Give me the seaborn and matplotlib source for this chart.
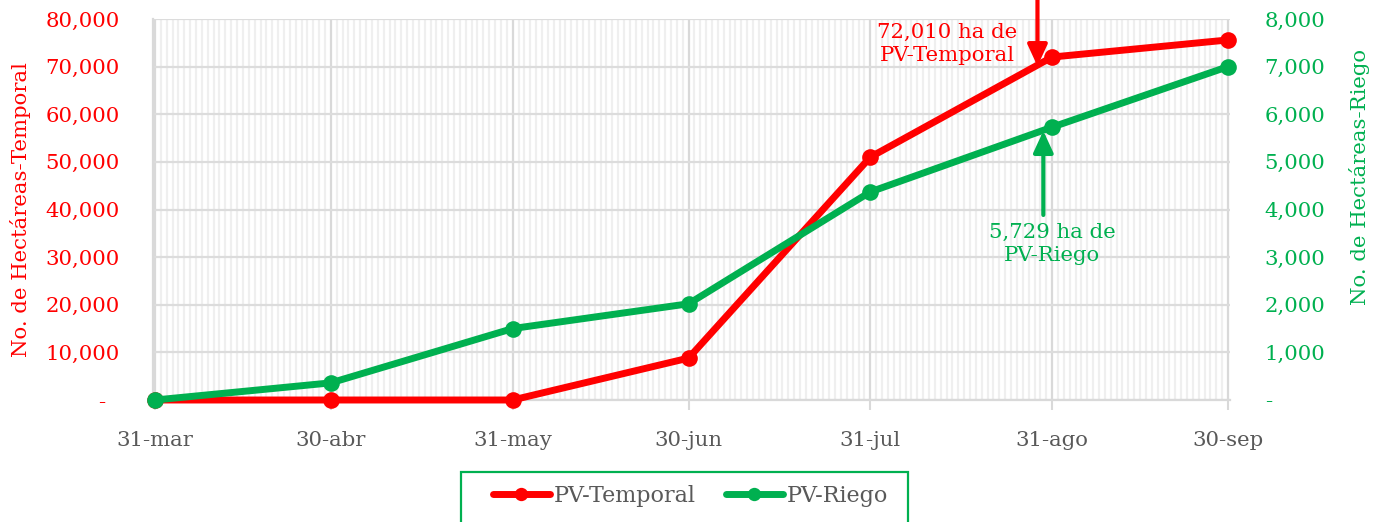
import numpy as np
import pandas as pd
import matplotlib
matplotlib.use("Agg")
import matplotlib.pyplot as plt
import matplotlib.dates as mdates
from matplotlib.patches import Rectangle
import seaborn as sns

# ---- data ----
fechas = ["2020-03-31", "2020-04-30", "2020-05-31", "2020-06-30",
          "2020-07-31", "2020-08-31", "2020-09-30"]
etiquetas_x = ["31-mar", "30-abr", "31-may", "30-jun", "31-jul", "31-ago", "30-sep"]
pv_temporal = [0, 0, 0, 8800, 51000, 72010, 75600]
pv_riego = [0, 360, 1500, 2020, 4370, 5729, 7000]
ticks_izq = [0, 10000, 20000, 30000, 40000, 50000, 60000, 70000, 80000]
etiq_izq = ["-  ", "10,000", "20,000", "30,000", "40,000", "50,000", "60,000", "70,000", "80,000"]
ticks_der = [0, 1000, 2000, 3000, 4000, 5000, 6000, 7000, 8000]
etiq_der = ["-", "1,000", "2,000", "3,000", "4,000", "5,000", "6,000", "7,000", "8,000"]
series = ["PV-Temporal", "PV-Riego"]

RED = "#FF0000"
GREEN = "#00B050"
GREY = "#595959"
GRID = "#D9D9D9"

sns.set_theme(style="white")
plt.rcParams['font.family'] = ['DejaVu Serif']
FS = 15.3

df = pd.DataFrame({"fecha": pd.to_datetime(fechas),
                   series[0]: pv_temporal,
                   series[1]: pv_riego})

W, H = 1378, 522
fig = plt.figure(figsize=(W / 100, H / 100), dpi=100)
ax = fig.add_axes([153 / W, 1 - 400 / H, (1230 - 153) / W, 381 / H])
ax2 = ax.twinx()

sns.lineplot(data=df, x="fecha", y=series[0], ax=ax, color=RED, lw=5,
             marker="o", markersize=12, markeredgewidth=0,
             label=series[0], legend=False, zorder=4)
sns.lineplot(data=df, x="fecha", y=series[1], ax=ax2, color=GREEN, lw=5,
             marker="o", markersize=12, markeredgewidth=0,
             label=series[1], legend=False, zorder=4)
for a in (ax, ax2):
    for ln in a.lines:
        ln.set_clip_on(False)
        ln.set_zorder(4)

d0, d1 = df["fecha"].iloc[0], df["fecha"].iloc[-1]
ax.set_xlim(d0 - pd.Timedelta(hours=8), d1 + pd.Timedelta(hours=8))
ax.set_ylim(ticks_izq[0], ticks_izq[-1])
ax2.set_ylim(ticks_der[0], ticks_der[-1])

ax.set_xticks(df["fecha"])
ax.set_xticklabels(etiquetas_x)
ax.xaxis.set_minor_locator(mdates.DayLocator())
ax.set_yticks(ticks_izq)
ax.set_yticklabels(etiq_izq)
ax2.set_yticks(ticks_der)
ax2.set_yticklabels(etiq_der)

ax.grid(which="minor", axis="x", color="#EFEFEF", lw=1.6)
ax.grid(which="major", axis="x", color=GRID, lw=1.6)
ax.grid(which="major", axis="y", color="#DCDCDC", lw=1.6)
ax.set_axisbelow(True)
ax2.grid(False)

ax.tick_params(axis="x", which="major", length=7, width=1.5, color=GRID,
               labelcolor=GREY, labelsize=FS, pad=15, direction="out", bottom=True)
ax.tick_params(axis="x", which="minor", length=0)
ax.tick_params(axis="y", length=0, labelcolor=RED, labelsize=FS, pad=24)
ax2.tick_params(axis="y", length=0, labelcolor=GREEN, labelsize=FS, pad=25)

for s in ["top", "right"]:
    ax.spines[s].set_visible(False)
for s in ["left", "bottom"]:
    ax.spines[s].set_color(GRID)
    ax.spines[s].set_linewidth(1.6)
    ax.spines[s].set_zorder(1)
for s in ax2.spines.values():
    s.set_visible(False)

ax.set_xlabel("")
ax.set_ylabel("No. de Hectáreas-Temporal", color=RED, fontsize=FS)
ax.yaxis.set_label_coords((31 - 153) / 1077, 0.5)
ax2.set_ylabel("No. de Hectáreas-Riego", color=GREEN, fontsize=FS, rotation=90)
ax2.yaxis.set_label_coords((1349 - 153) / 1077, 0.585)

# annotations
d_ago = df["fecha"].iloc[5]
ax.annotate("", xy=(d_ago - pd.Timedelta(days=2.5), 70100),
            xytext=(d_ago - pd.Timedelta(days=2.5), 90000),
            arrowprops=dict(arrowstyle="-|>,head_length=0.65,head_width=0.3",
                            color=RED, lw=3, mutation_scale=20,
                            shrinkA=0, shrinkB=0),
            annotation_clip=False)
ax.text(d_ago - pd.Timedelta(days=17.9), 74750, "72,010 ha de\nPV-Temporal",
        color=RED, fontsize=FS, ha="center", va="center", linespacing=1.25)

ax2.annotate("", xy=(d_ago - pd.Timedelta(days=1.5), 5650),
             xytext=(d_ago - pd.Timedelta(days=1.5), 3885),
             arrowprops=dict(arrowstyle="-|>,head_length=0.65,head_width=0.3",
                             color=GREEN, lw=3, mutation_scale=20,
                             shrinkA=0, shrinkB=0),
             annotation_clip=False)
ax2.text(d_ago, 3276, "5,729 ha de\nPV-Riego",
         color=GREEN, fontsize=FS, ha="center", va="center", linespacing=1.25)

# legend (frame drawn separately)
box = Rectangle((461 / W, 1 - 540 / H), (908 - 461) / W, (540 - 472) / H,
                transform=fig.transFigure, facecolor="white",
                edgecolor=GREEN, linewidth=1.6, zorder=0)
fig.patches.append(box)
handles = [ax.lines[0], ax2.lines[0]]
leg = fig.legend(handles, series, loc="center left",
                 bbox_to_anchor=(493 / W, 1 - 496 / H), ncol=2,
                 fontsize=FS + 0.7, frameon=False,
                 borderpad=0, borderaxespad=0, handlelength=2.55,
                 handletextpad=0.2, columnspacing=1.35, markerscale=0.8)
for t in leg.get_texts():
    t.set_color(GREY)

fig.savefig("out.png", dpi=100)
